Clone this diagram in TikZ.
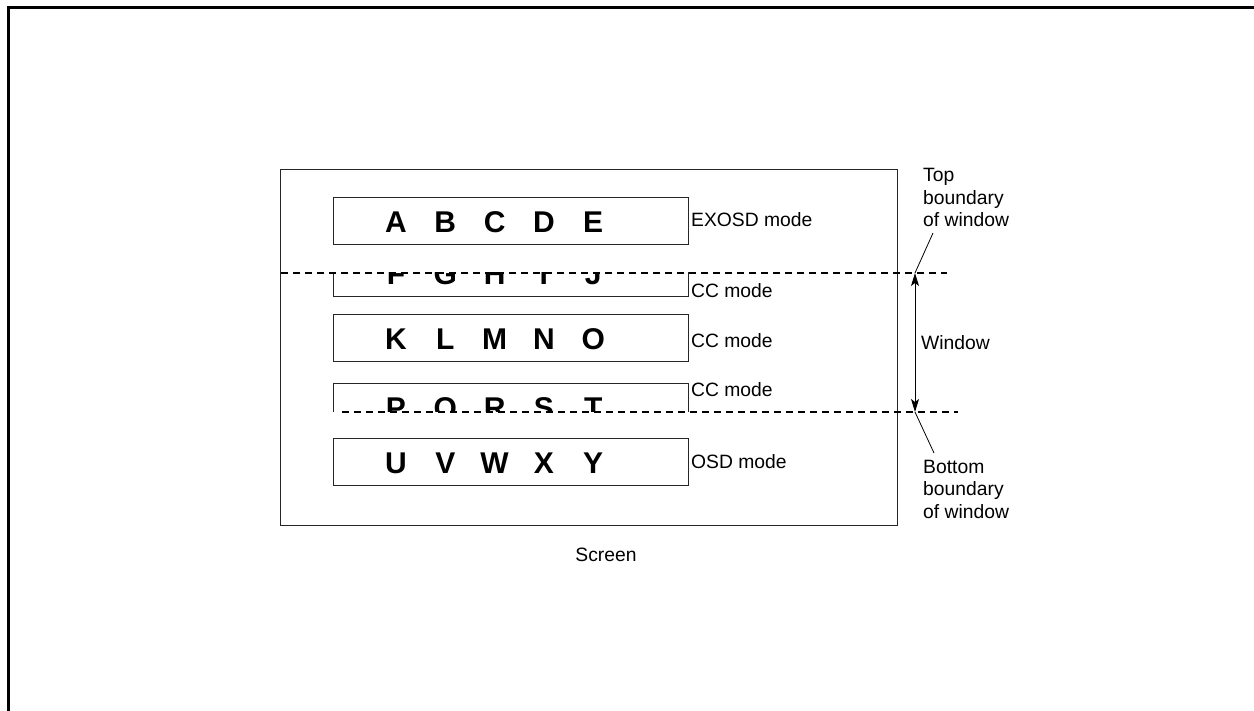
\documentclass[tikz,border=0pt]{standalone}
\usepackage{fontspec}
\setmainfont{Liberation Sans}
\newfontfamily\bigletters{Liberation Sans}[UprightFeatures={FakeBold=1.2}]
\usetikzlibrary{arrows.meta}
\begin{document}
\begin{tikzpicture}[x=1pt,y=-1pt,
  chbox/.style={draw=black!85, line width=1pt, minimum width=355pt, minimum height=47pt, inner sep=0pt},
  big/.style={font=\bigletters\bfseries\fontsize{30}{36}\selectfont, inner sep=0pt, anchor=base},
  lab/.style={font=\fontsize{19.3}{22.5}\selectfont, inner sep=0pt, anchor=west, align=left},
  bound/.style={dash pattern=on 7pt off 5pt, line width=1.4pt},
  leader/.style={line width=0.8pt}
]
\useasboundingbox (0,0) rectangle (1254,711);
% frame
\coordinate (f1) at (8,711);
\coordinate (f2) at (8,8);
\coordinate (f3) at (1254,8);
\draw[line width=3pt] (f1) -- (f2) -- (f3);
% screen
\node[draw=black!85, line width=1pt, minimum width=617pt, minimum height=355pt, inner sep=0pt] (screen) at (588.5,347.5) {};
\node[lab, anchor=center] (screenlab) at (606,555) {Screen};
% box 1
\node[chbox] (b1) at (510.5,221.5) {};
\foreach \l [count=\i from 0] in {A,B,C,D,E}
  \node[big] (l\l) at (396+49.3*\i, 233) {\l};
% box 2 (clipped above top boundary)
\begin{scope}
\clip (270,273) rectangle (720,330);
\node[chbox] (b2) at (510.5,273.5) {};
\foreach \l [count=\i from 0] in {F,G,H,I,J}
  \node[big] (l\l) at (396+49.3*\i, 285) {\l};
\end{scope}
% box 3
\node[chbox] (b3) at (510.5,338.5) {};
\foreach \l [count=\i from 0] in {K,L,M,N,O}
  \node[big] (l\l) at (396+49.3*\i, 350) {\l};
% box 4 (clipped below bottom boundary)
\begin{scope}
\clip (270,370) rectangle (720,412);
\node[chbox] (b4) at (510.5,407.5) {};
\foreach \l [count=\i from 0] in {P,Q,R,S,T}
  \node[big] (l\l) at (396+49.3*\i, 419) {\l};
\end{scope}
% box 5
\node[chbox] (b5) at (510.5,462) {};
\foreach \l [count=\i from 0] in {U,V,W,X,Y}
  \node[big] (l\l) at (396+49.3*\i, 473.5) {\l};
% mode labels
\node[lab] (m1) at (691,220) {EXOSD mode};
\node[lab] (m2) at (691,291) {CC mode};
\node[lab] (m3) at (691,341) {CC mode};
\node[lab] (m4) at (691,390) {CC mode};
\node[lab] (m5) at (691,462) {OSD mode};
% boundaries
\coordinate (t1) at (281,273);
\coordinate (t2) at (947,273);
\coordinate (u1) at (342,412);
\coordinate (u2) at (958,412);
\draw[bound] (t1) -- (t2);
\draw[bound] (u1) -- (u2);
% window arrow
\coordinate (wa) at (915,273);
\coordinate (wb) at (915,412);
\draw[line width=1pt, {Stealth[length=13pt,width=8pt,inset=3pt]}-{Stealth[length=13pt,width=8pt,inset=3pt]}] (wa) -- (wb);
\node[lab] (win) at (921,343) {Window};
% boundary labels
\node[lab, anchor=south west] (toplab) at (923,227) {Top\\boundary\\of window};
\node[lab, anchor=north west] (botlab) at (923,460) {Bottom\\boundary\\of window};
\coordinate (tl) at (933,233);
\coordinate (bl) at (934,453);
\draw[leader] (tl) -- (wa);
\draw[leader] (wb) -- (bl);
\end{tikzpicture}
\end{document}
